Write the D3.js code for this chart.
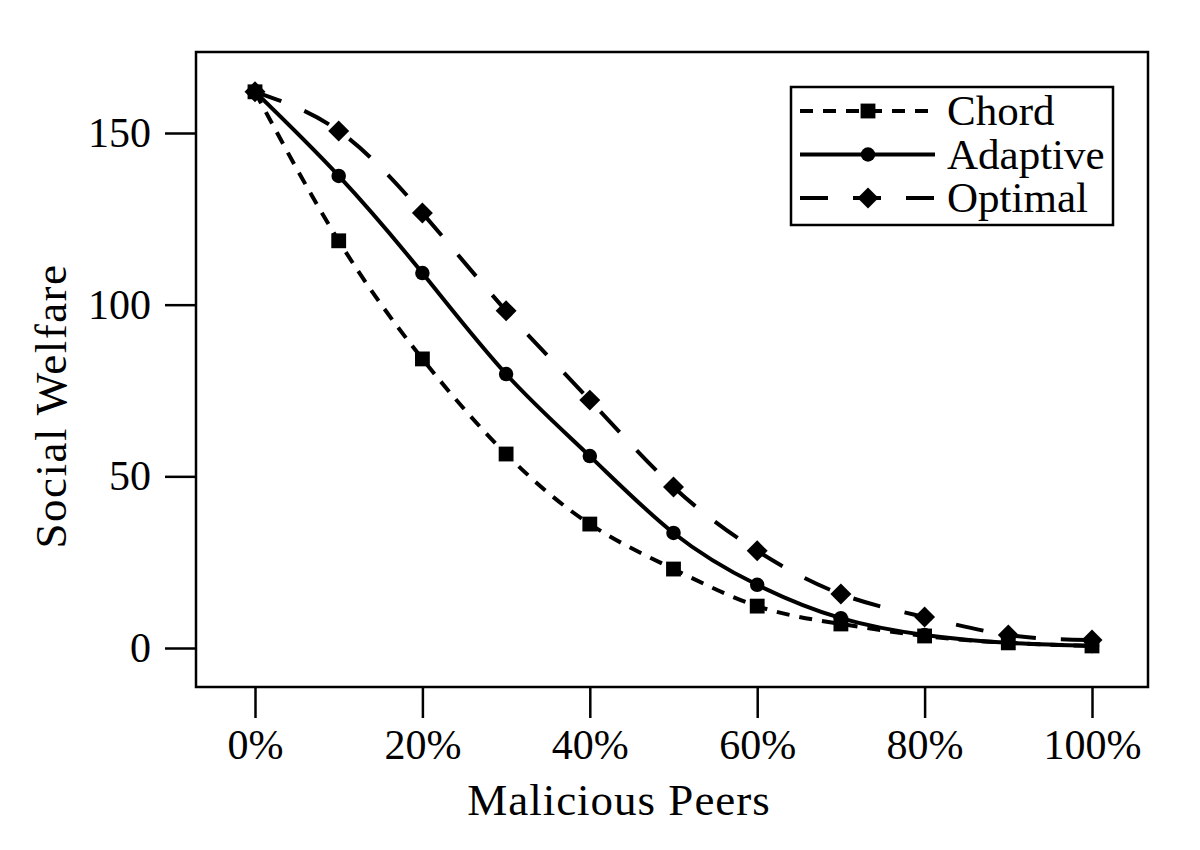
<!DOCTYPE html>
<html>
<head>
<meta charset="utf-8">
<style>
  body { margin: 0; background: #fff; }
  text { font-family: "Liberation Serif", "DejaVu Serif", serif; fill: #000; }
</style>
</head>
<body>
<div id="chart"></div>
<script src="https://cdn.jsdelivr.net/npm/d3@7"></script>
<script>
    // data
    const malicious = [0, 10, 20, 30, 40, 50, 60, 70, 80, 90, 100];
    const chord    = [162, 118.6, 84.2, 56.5, 36.1, 23.0, 12.2, 7.0, 3.5, 1.5, 0.6];
    const adaptive = [162, 137.5, 109.2, 79.8, 55.9, 33.5, 18.4, 8.7, 3.8, 1.5, 0.6];
    const optimal  = [162, 150.6, 126.7, 98.2, 72.2, 46.9, 28.3, 15.7, 9.0, 3.8, 2.3];
    const xTicks = [0, 20, 40, 60, 80, 100];
    const yTicks = [0, 50, 100, 150];

    const width = 1200, height = 850;
    const box = {left: 196, right: 1148, top: 52, bottom: 687};

    const svg = d3.select("#chart").append("svg")
        .attr("width", width)
        .attr("height", height);

    const x = d3.scaleLinear().domain([0, 100]).range([255, 1092]);
    const y = d3.scaleLinear().domain([0, 150]).range([648, 133]);

    // square turned 45 degrees, wider than d3's own diamond
    const squareDiamond = {
        draw(ctx, size) {
            const r = Math.sqrt(size / 2);
            ctx.moveTo(0, -r);
            ctx.lineTo(r, 0);
            ctx.lineTo(0, r);
            ctx.lineTo(-r, 0);
            ctx.closePath();
        }
    };

    const series = [
        {name: "Chord", values: chord, dash: "13,10", shape: d3.symbolSquare, size: 220},
        {name: "Adaptive", values: adaptive, dash: null, shape: d3.symbolCircle, size: 165},
        {name: "Optimal", values: optimal, dash: "28,25", shape: squareDiamond, size: 220}
    ];

    // plot frame
    svg.append("rect")
        .attr("x", box.left).attr("y", box.top)
        .attr("width", box.right - box.left)
        .attr("height", box.bottom - box.top)
        .attr("fill", "none")
        .attr("stroke", "#000")
        .attr("stroke-width", 2.5);

    // x axis
    const xAxis = svg.append("g")
        .attr("transform", `translate(0, ${box.bottom})`)
        .call(d3.axisBottom(x).tickValues(xTicks).tickSize(31).tickPadding(11)
            .tickFormat(d => d + "%"));
    xAxis.select(".domain").remove();
    xAxis.selectAll("line").attr("stroke-width", 2.5);
    xAxis.selectAll("text").attr("font-size", 42)
        .style("font-family", "'Liberation Serif', serif");

    // y axis
    const yAxis = svg.append("g")
        .attr("transform", `translate(${box.left}, 0)`)
        .call(d3.axisLeft(y).tickValues(yTicks).tickSize(31).tickPadding(14));
    yAxis.select(".domain").remove();
    yAxis.selectAll("line").attr("stroke-width", 2.5);
    yAxis.selectAll("text").attr("font-size", 42)
        .style("font-family", "'Liberation Serif', serif");

    // axis titles
    svg.append("text")
        .attr("x", 619)
        .attr("y", 815)
        .attr("text-anchor", "middle")
        .attr("font-size", 45)
        .attr("letter-spacing", 1)
        .text("Malicious Peers");

    svg.append("text")
        .attr("transform", "translate(66, 406) rotate(-90)")
        .attr("text-anchor", "middle")
        .attr("font-size", 45)
        .attr("letter-spacing", 1.5)
        .text("Social Welfare");

    const line = d3.line()
        .x((d, i) => x(malicious[i]))
        .y(d => y(d))
        .curve(d3.curveNatural);

    series.forEach(s => {
        svg.append("path")
            .attr("d", line(s.values))
            .attr("fill", "none")
            .attr("stroke", "#000")
            .attr("stroke-width", 4)
            .attr("stroke-dasharray", s.dash);

        svg.selectAll(null)
            .data(s.values)
            .enter().append("path")
            .attr("transform", (d, i) => `translate(${x(malicious[i])}, ${y(d)})`)
            .attr("d", d3.symbol().type(s.shape).size(s.size))
            .attr("fill", "#000");
    });

    // legend
    const legend = svg.append("g");
    legend.append("rect")
        .attr("x", 791).attr("y", 87)
        .attr("width", 322).attr("height", 138)
        .attr("fill", "#fff")
        .attr("stroke", "#000")
        .attr("stroke-width", 2.5);

    series.forEach((s, i) => {
        const ly = 111 + i * 43.5;
        legend.append("line")
            .attr("x1", 800).attr("x2", 935)
            .attr("y1", ly).attr("y2", ly)
            .attr("stroke", "#000")
            .attr("stroke-width", 4)
            .attr("stroke-dasharray", s.dash);
        legend.append("path")
            .attr("transform", `translate(868, ${ly})`)
            .attr("d", d3.symbol().type(s.shape).size(s.size))
            .attr("fill", "#000");
        legend.append("text")
            .attr("x", 947)
            .attr("y", ly + 14)
            .attr("font-size", 43)
            .text(s.name);
    });
</script>
</body>
</html>
